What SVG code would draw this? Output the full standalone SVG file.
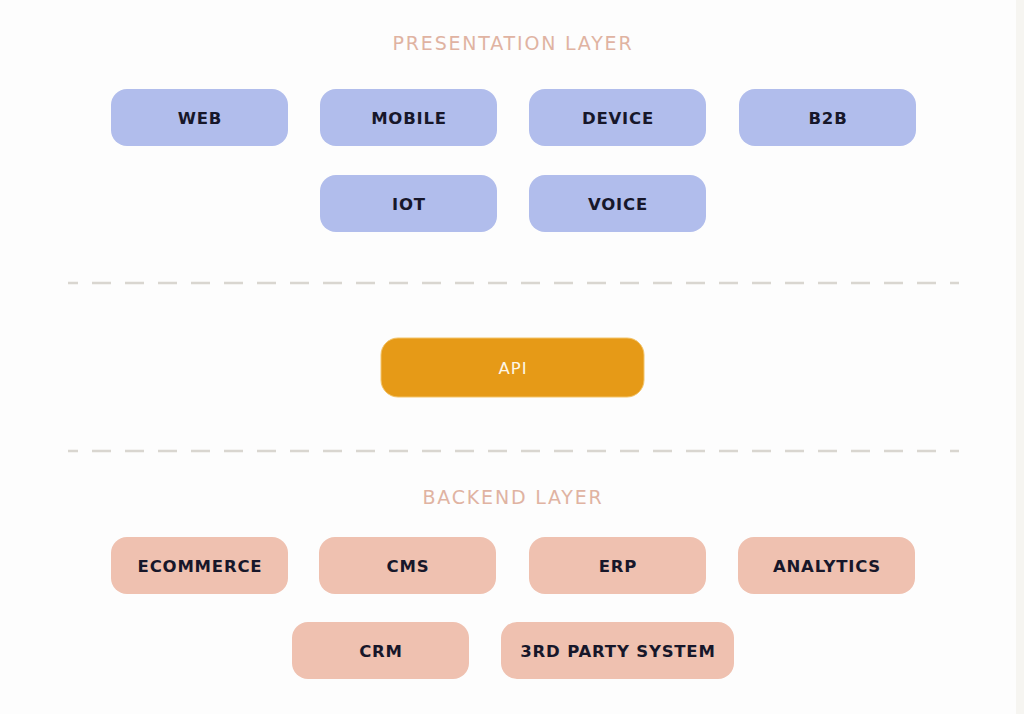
<svg xmlns="http://www.w3.org/2000/svg" width="1024" height="714" viewBox="0 0 1024 714">
<style>
.title{font-family:"DejaVu Sans","Open Sans",sans-serif;font-size:19px;fill:#e0b3a2;text-anchor:middle;letter-spacing:1.8px}
.lbl{font-family:"DejaVu Sans","Open Sans",sans-serif;font-size:16.5px;font-weight:bold;fill:#17172a;text-anchor:middle;dominant-baseline:central;letter-spacing:0.8px}
.p rect{fill:#b1bdec}
.b rect{fill:#efc1b0}
.sep{stroke:#d9d6d0;stroke-width:2.5;stroke-dasharray:19 14;stroke-dashoffset:9;fill:none}
</style>
<rect width="1024" height="714" fill="#fdfdfd"/>
<rect x="1016" y="0" width="8" height="714" fill="#f6f5f1"/>
<text class="title" x="513" y="50">PRESENTATION LAYER</text>
<g id="web" class="p"><rect x="111" y="89" width="177" height="57" rx="16"/><text class="lbl" x="200" y="118">WEB</text></g>
<g id="mobile" class="p"><rect x="320" y="89" width="177" height="57" rx="16"/><text class="lbl" x="409" y="118">MOBILE</text></g>
<g id="device" class="p"><rect x="529" y="89" width="177" height="57" rx="16"/><text class="lbl" x="618" y="118">DEVICE</text></g>
<g id="b2b" class="p"><rect x="739" y="89" width="177" height="57" rx="16"/><text class="lbl" x="828" y="118">B2B</text></g>
<g id="iot" class="p"><rect x="320" y="175" width="177" height="57" rx="16"/><text class="lbl" x="409" y="204">IOT</text></g>
<g id="voice" class="p"><rect x="529" y="175" width="177" height="57" rx="16"/><text class="lbl" x="618" y="204">VOICE</text></g>
<g id="connectors">
<line class="sep" x1="68" y1="283" x2="959" y2="283"/>
<line class="sep" x1="68" y1="451" x2="959" y2="451"/>
</g>
<g id="api"><rect x="381" y="338" width="263" height="59" rx="17" fill="#e69a17" stroke="#f3c46a" stroke-width="1"/><text class="lbl" x="513" y="368" style="fill:#fdf6e6;font-weight:normal;letter-spacing:1px">API</text></g>
<text class="title" x="513" y="504">BACKEND LAYER</text>
<g id="ecommerce" class="b"><rect x="111" y="537" width="177" height="57" rx="16"/><text class="lbl" x="200" y="566">ECOMMERCE</text></g>
<g id="cms" class="b"><rect x="319" y="537" width="177" height="57" rx="16"/><text class="lbl" x="408" y="566">CMS</text></g>
<g id="erp" class="b"><rect x="529" y="537" width="177" height="57" rx="16"/><text class="lbl" x="618" y="566">ERP</text></g>
<g id="analytics" class="b"><rect x="738" y="537" width="177" height="57" rx="16"/><text class="lbl" x="827" y="566">ANALYTICS</text></g>
<g id="crm" class="b"><rect x="292" y="622" width="177" height="57" rx="16"/><text class="lbl" x="381" y="651">CRM</text></g>
<g id="thirdparty" class="b"><rect x="501" y="622" width="233" height="57" rx="16"/><text class="lbl" x="618" y="651">3RD PARTY SYSTEM</text></g>
</svg>
